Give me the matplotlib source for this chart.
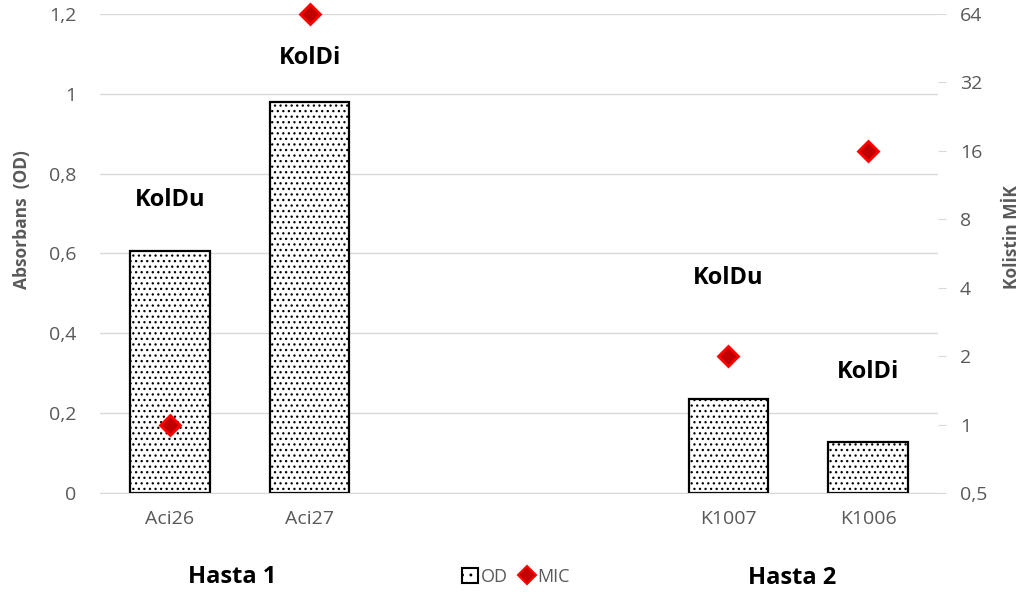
import matplotlib
matplotlib.use("Agg")
import matplotlib.pyplot as plt
from matplotlib.patches import Patch
from matplotlib.lines import Line2D
import numpy as np

plt.rcParams['font.family'] = ['Open Sans', 'DejaVu Sans']
plt.rcParams['hatch.linewidth'] = 0.9

categories = ['Aci26', 'Aci27', '', '', 'K1007', 'K1006']
od_values = [0.605, 0.98, np.nan, np.nan, 0.236, 0.128]
mic_values = [1, 64, np.nan, np.nan, 2, 16]
bar_labels = ['KolDu', 'KolDi', '', '', 'KolDu', 'KolDi']
label_heights = [0.734, 1.09, np.nan, np.nan, 0.539, 0.303]
left_ticks = [0, 0.2, 0.4, 0.6, 0.8, 1.0, 1.2]
left_ticklabels = ['0', '0,2', '0,4', '0,6', '0,8', '1', '1,2']
right_ticks = [0.5, 1, 2, 4, 8, 16, 32, 64]
right_ticklabels = ['0,5', '1', '2', '4', '8', '16', '32', '64']

gray = '#595959'
grid = '#d9d9d9'

fig = plt.figure(figsize=(10.23, 5.94), dpi=100)
ax = fig.add_axes([0.0978, 0.170, 0.819, 0.8066])
x = np.arange(len(categories))

ax.bar(x, od_values, width=0.57, facecolor='white', edgecolor='black',
       linewidth=1.6, hatch='...', zorder=2)
ax.set_xlim(-0.5, len(categories) - 0.5)
ax.set_ylim(0, 1.2)
ax.set_yticks(left_ticks)
ax.set_yticklabels(left_ticklabels)
ax.yaxis.grid(True, color=grid, linewidth=1)
ax.set_axisbelow(True)
ax.tick_params(axis='y', length=0, labelsize=14, labelcolor=gray, pad=17)
ax.set_xticks(x)
ax.set_xticklabels(categories)
ax.tick_params(axis='x', length=0, labelsize=14, labelcolor=gray, pad=12)
for s in ['top', 'left', 'right']:
    ax.spines[s].set_visible(False)
ax.spines['bottom'].set_color(grid)
ax.set_ylabel('Absorbans  (OD)', fontsize=12.5, fontweight='bold', color=gray, va='center')
ax.yaxis.set_label_coords(-0.093, 0.57)

for xi, lab, h in zip(x, bar_labels, label_heights):
    if lab:
        ax.text(xi, h, lab, ha='center', va='center', fontsize=17, fontweight='bold')

ax2 = ax.twinx()
ax2.set_yscale('log', base=2)
ax2.set_ylim(0.5, 64)
ax2.plot(x, mic_values, linestyle='none', marker='D', markersize=10.5,
         markerfacecolor='#c00000', markeredgecolor='#ff0000', markeredgewidth=2,
         zorder=3, clip_on=False)
ax2.set_yticks(right_ticks)
ax2.set_yticklabels(right_ticklabels)
ax2.yaxis.set_minor_locator(matplotlib.ticker.NullLocator())
ax2.tick_params(axis='y', length=6, color=grid, labelsize=14, labelcolor=gray, pad=10)
for s in ['top', 'left', 'right', 'bottom']:
    ax2.spines[s].set_visible(False)
ax2.set_ylabel('Kolistin MİK', fontsize=12.5, fontweight='bold', color=gray, va='center')
ax2.yaxis.set_label_coords(1.0883, 0.534)

fig.text(232 / 1023, 1 - 577 / 594, 'Hasta 1', ha='center', va='center',
         fontsize=17, fontweight='bold')
fig.text(792 / 1023, 1 - 578 / 594, 'Hasta 2', ha='center', va='center',
         fontsize=17, fontweight='bold')

handles = [Patch(facecolor='white', edgecolor='black', hatch='..', linewidth=1.5),
           Line2D([], [], linestyle='none', marker='D', markersize=9,
                  markerfacecolor='#c00000', markeredgecolor='#ff0000', markeredgewidth=1.5)]
leg = fig.legend(handles, ['OD', 'MIC'], loc='center', bbox_to_anchor=(516 / 1023, 1 - 577 / 594),
                 ncol=2, frameon=False, fontsize=13, handlelength=0.9, handleheight=0.9,
                 handletextpad=0.15, columnspacing=0.6)
for t in leg.get_texts():
    t.set_color(gray)

fig.savefig('out.png', dpi=100)
